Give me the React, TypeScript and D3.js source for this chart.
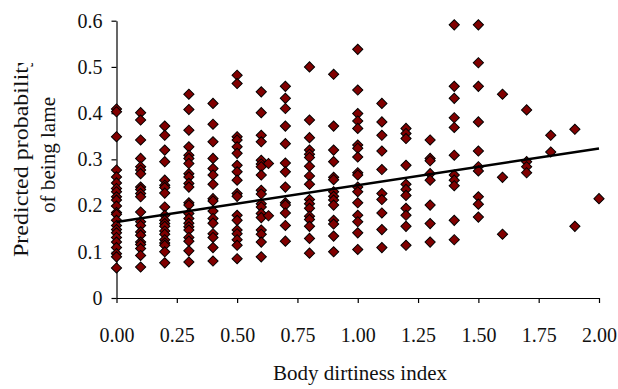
import * as d3 from 'd3'
import { useEffect, useRef } from 'react'

// predicted probability of being lame, one list per body dirtiness index value
const at000 = [0.409, 0.403, 0.349, 0.277, 0.262, 0.249, 0.237, 0.23, 0.219, 0.212, 0.199, 0.185, 0.181, 0.168, 0.157, 0.148, 0.141, 0.131, 0.121, 0.109, 0.096, 0.089, 0.065]
const at010 = [0.401, 0.385, 0.342, 0.302, 0.284, 0.277, 0.269, 0.24, 0.235, 0.226, 0.219, 0.186, 0.165, 0.157, 0.143, 0.136, 0.121, 0.116, 0.107, 0.092, 0.067]
const at020 = [0.372, 0.352, 0.32, 0.295, 0.255, 0.244, 0.239, 0.227, 0.197, 0.179, 0.168, 0.161, 0.155, 0.145, 0.138, 0.126, 0.119, 0.114, 0.1, 0.076]
const at030 = [0.441, 0.408, 0.363, 0.327, 0.309, 0.302, 0.291, 0.269, 0.262, 0.248, 0.24, 0.206, 0.201, 0.183, 0.172, 0.162, 0.154, 0.147, 0.131, 0.123, 0.102, 0.078]
const at040 = [0.421, 0.376, 0.338, 0.302, 0.28, 0.266, 0.246, 0.215, 0.21, 0.188, 0.172, 0.162, 0.139, 0.131, 0.109, 0.08]
const at050 = [0.482, 0.464, 0.349, 0.342, 0.327, 0.313, 0.287, 0.273, 0.255, 0.226, 0.22, 0.179, 0.168, 0.147, 0.139, 0.126, 0.114, 0.085]
const at060 = [0.446, 0.401, 0.352, 0.338, 0.298, 0.29, 0.284, 0.266, 0.233, 0.225, 0.204, 0.197, 0.183, 0.174, 0.147, 0.138, 0.121, 0.089]
const at063 = [0.291, 0.178]
const at070 = [0.458, 0.432, 0.41, 0.372, 0.334, 0.292, 0.273, 0.24, 0.206, 0.201, 0.184, 0.157, 0.123]
const at080 = [0.5, 0.385, 0.347, 0.32, 0.311, 0.304, 0.285, 0.264, 0.246, 0.213, 0.204, 0.194, 0.177, 0.17, 0.155, 0.129, 0.097]
const at090 = [0.484, 0.372, 0.32, 0.295, 0.261, 0.256, 0.23, 0.22, 0.212, 0.201, 0.168, 0.16, 0.134, 0.1]
const at100 = [0.538, 0.45, 0.399, 0.383, 0.367, 0.331, 0.324, 0.305, 0.271, 0.266, 0.24, 0.23, 0.206, 0.179, 0.165, 0.141, 0.105]
const at110 = [0.421, 0.381, 0.352, 0.318, 0.278, 0.226, 0.213, 0.184, 0.148, 0.109]
const at120 = [0.367, 0.356, 0.345, 0.287, 0.246, 0.235, 0.222, 0.194, 0.179, 0.155, 0.114]
const at130 = [0.342, 0.302, 0.297, 0.269, 0.255, 0.201, 0.161, 0.121]
const at140 = [0.591, 0.458, 0.432, 0.39, 0.369, 0.309, 0.266, 0.255, 0.243, 0.168, 0.126]
const at150 = [0.591, 0.509, 0.458, 0.381, 0.318, 0.284, 0.275, 0.219, 0.203, 0.175]
const at160 = [0.441, 0.261, 0.138]
const at170 = [0.407, 0.295, 0.284, 0.271]
const at180 = [0.352, 0.316]
const at190 = [0.365, 0.155]
const at200 = [0.215]

const dirtLevels = [0, 0.1, 0.2, 0.3, 0.4, 0.5, 0.6, 0.63, 0.7, 0.8, 0.9, 1.0, 1.1, 1.2, 1.3, 1.4, 1.5, 1.6, 1.7, 1.8, 1.9, 2.0]
const probLists = [at000, at010, at020, at030, at040, at050, at060, at063, at070, at080, at090, at100, at110, at120, at130, at140, at150, at160, at170, at180, at190, at200]

// fitted line
const fitX = [0, 2]
const fitY = [0.1646, 0.3236]

const xTicks = [0, 0.25, 0.5, 0.75, 1, 1.25, 1.5, 1.75, 2]
const yTicks = [0, 0.1, 0.2, 0.3, 0.4, 0.5, 0.6]

const font = '"Liberation Serif", "Times New Roman", serif'

export default function App() {
  const ref = useRef<SVGSVGElement>(null)

  useEffect(() => {
    const width = 618
    const height = 389
    const margin = { top: 20.7, right: 19, bottom: 91, left: 116.5 }

    const svg = d3.select(ref.current)
    svg.selectAll('*').remove()
    svg.attr('width', width).attr('height', height)

    const x = d3.scaleLinear().domain([0, 2]).range([margin.left, width - margin.right])
    const y = d3.scaleLinear().domain([0, 0.6]).range([height - margin.bottom, margin.top])

    const points = dirtLevels.flatMap((d, i) => probLists[i].map(p => ({ d, p })))

    // axes
    const xAxis = svg.append('g')
      .attr('transform', `translate(0,${y(0)})`)
      .call(d3.axisBottom(x).tickValues(xTicks).tickFormat(d3.format('.2f')).tickSize(5).tickSizeOuter(0).tickPadding(24.5))
    const yAxis = svg.append('g')
      .attr('transform', `translate(${x(0)},0)`)
      .call(d3.axisLeft(y).tickValues(yTicks).tickFormat(v => (v === 0 ? '0' : d3.format('.1f')(v as number))).tickSize(5).tickSizeOuter(0).tickPadding(9))

    for (const g of [xAxis, yAxis]) {
      g.select('.domain').attr('stroke', '#000').attr('stroke-width', 1.2)
      g.selectAll('.tick line').attr('stroke', '#000').attr('stroke-width', 1.2)
      g.selectAll('.tick text').attr('fill', '#111').style('font-family', font).style('font-size', '20px')
    }

    // points
    const diamond = d3.symbol(d3.symbolSquare, 52)()
    svg.append('g')
      .selectAll('path')
      .data(points)
      .join('path')
      .attr('d', diamond)
      .attr('transform', d => `translate(${x(d.d)},${y(d.p)}) rotate(45)`)
      .attr('fill', '#800000')
      .attr('stroke', '#000')
      .attr('stroke-width', 1)

    // fitted line
    const line = d3.line<number>().x(d => x(d)).y((d, i) => y(fitY[i]))
    svg.append('path')
      .attr('d', line(fitX))
      .attr('fill', 'none')
      .attr('stroke', '#000')
      .attr('stroke-width', 2.5)

    // axis titles
    svg.append('text')
      .attr('x', 360)
      .attr('y', 380)
      .attr('text-anchor', 'middle')
      .attr('textLength', 174)
      .attr('lengthAdjust', 'spacingAndGlyphs')
      .style('font-family', font)
      .style('font-size', '21px')
      .attr('fill', '#111')
      .text('Body dirtiness index')

    svg.append('clipPath').attr('id', 'ylab-clip')
      .append('rect').attr('x', 0).attr('y', 63).attr('width', 80).attr('height', 260)

    const ylab = svg.append('g').attr('clip-path', 'url(#ylab-clip)')
    ylab.append('text')
      .attr('transform', 'translate(28,156) rotate(-90)')
      .attr('text-anchor', 'middle')
      .attr('textLength', 202)
      .attr('lengthAdjust', 'spacingAndGlyphs')
      .style('font-family', font)
      .style('font-size', '21px')
      .attr('fill', '#111')
      .text('Predicted probability')
    ylab.append('text')
      .attr('transform', 'translate(55,155) rotate(-90)')
      .attr('text-anchor', 'middle')
      .attr('textLength', 116)
      .attr('lengthAdjust', 'spacingAndGlyphs')
      .style('font-family', font)
      .style('font-size', '21px')
      .attr('fill', '#111')
      .text('of being lame')
  }, [])

  return (
    <svg ref={ref} style={{ position: 'absolute', left: 0, top: 0, background: '#fff' }} />
  )
}
